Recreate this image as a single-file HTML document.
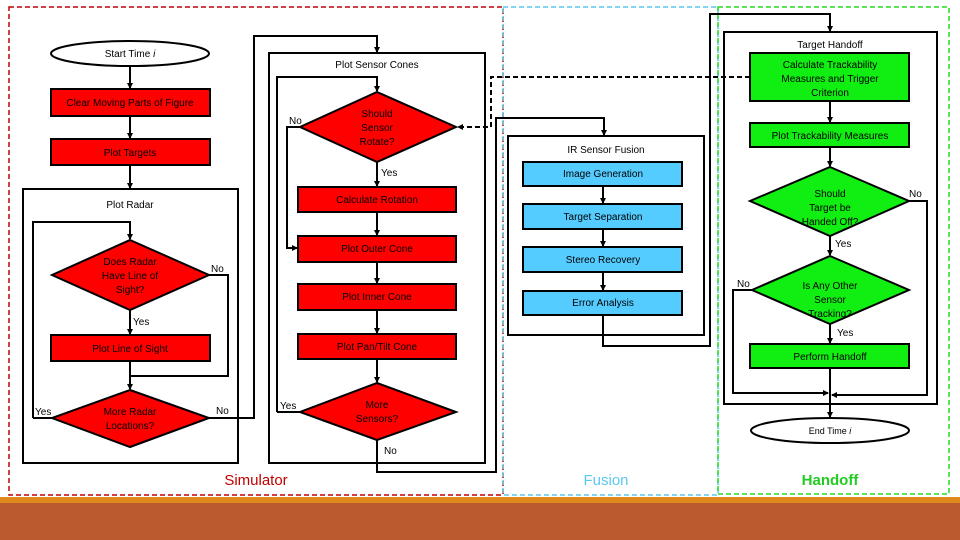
<!DOCTYPE html>
<html><head><meta charset="utf-8"><style>
html,body{margin:0;padding:0;background:#fff;}
svg{display:block;}
text{font-family:"Liberation Sans",sans-serif;font-size:10px;fill:#000;}
</style></head><body>
<svg width="960" height="540" viewBox="0 0 960 540" xmlns="http://www.w3.org/2000/svg">
<defs>
<marker id="a" markerWidth="6" markerHeight="6" refX="5" refY="3" orient="auto" markerUnits="userSpaceOnUse"><path d="M0,0 L6,3 L0,6 z" fill="#000"/></marker>
</defs>
<rect x="0" y="497" width="960" height="43" fill="#bb5a2e"/>
<rect x="0" y="497" width="960" height="6" fill="#e08a1e"/>
<rect x="9" y="7" width="494" height="488" fill="none" stroke="#c00000" stroke-width="1.5" stroke-dasharray="5,3"/>
<rect x="503" y="7" width="215" height="488" fill="none" stroke="#5bc8f0" stroke-width="1.5" stroke-dasharray="5,3"/>
<rect x="718" y="7" width="231" height="487" fill="none" stroke="#22dd22" stroke-width="1.5" stroke-dasharray="5,3"/>
<text x="256" y="485" text-anchor="middle" style="font-size:15px;fill:#c00000">Simulator</text>
<text x="606" y="485" text-anchor="middle" style="font-size:15px;fill:#5bc8f0">Fusion</text>
<text x="830" y="485" text-anchor="middle" style="font-size:15px;fill:#22cc22;font-weight:bold">Handoff</text>
<g stroke="#000" stroke-width="2" fill="none">
<rect x="23" y="189" width="215" height="274"/>
<rect x="269" y="53" width="216" height="410"/>
<rect x="508" y="136" width="196" height="199"/>
<rect x="724" y="32" width="213" height="372"/>
<line x1="130" y1="66" x2="130" y2="88" marker-end="url(#a)"/>
<line x1="130" y1="116" x2="130" y2="138" marker-end="url(#a)"/>
<line x1="130" y1="165" x2="130" y2="188" marker-end="url(#a)"/>
<polyline points="33,418 33,222 130,222 130,239" marker-end="url(#a)"/>
<polyline points="209,275 228,275 228,376 131,376"/>
<line x1="130" y1="310" x2="130" y2="334" marker-end="url(#a)"/>
<line x1="130" y1="361" x2="130" y2="389" marker-end="url(#a)"/>
<line x1="52" y1="418" x2="33" y2="418"/>
<polyline points="209,418 254,418 254,36 377,36 377,52" marker-end="url(#a)"/>
<polyline points="277,412 277,77 377,77 377,91" marker-end="url(#a)"/>
<polyline points="300,127 287,127 287,248 297,248" marker-end="url(#a)"/>
<line x1="377" y1="162" x2="377" y2="186" marker-end="url(#a)"/>
<line x1="377" y1="212" x2="377" y2="235" marker-end="url(#a)"/>
<line x1="377" y1="262" x2="377" y2="283" marker-end="url(#a)"/>
<line x1="377" y1="310" x2="377" y2="333" marker-end="url(#a)"/>
<line x1="377" y1="359" x2="377" y2="382" marker-end="url(#a)"/>
<line x1="300" y1="412" x2="277" y2="412"/>
<polyline points="377,440 377,472 496,472 496,118 604,118 604,135" marker-end="url(#a)"/>
<polyline points="750,77 491,77 491,127 458,127" stroke-dasharray="5,3" marker-end="url(#a)"/>
<line x1="603" y1="186" x2="603" y2="203" marker-end="url(#a)"/>
<line x1="603" y1="229" x2="603" y2="246" marker-end="url(#a)"/>
<line x1="603" y1="272" x2="603" y2="290" marker-end="url(#a)"/>
<polyline points="603,315 603,346 710,346 710,14 830,14 830,31" marker-end="url(#a)"/>
<line x1="830" y1="101" x2="830" y2="122" marker-end="url(#a)"/>
<line x1="830" y1="147" x2="830" y2="166" marker-end="url(#a)"/>
<line x1="830" y1="236" x2="830" y2="255" marker-end="url(#a)"/>
<line x1="830" y1="324" x2="830" y2="343" marker-end="url(#a)"/>
<polyline points="909,201 927,201 927,395 832,395" marker-end="url(#a)"/>
<polyline points="752,290 733,290 733,393 828,393" marker-end="url(#a)"/>
<line x1="830" y1="368" x2="830" y2="417" marker-end="url(#a)"/>
</g>
<g stroke="#000" stroke-width="2">
<ellipse cx="130" cy="53.5" rx="79" ry="12.5" fill="#fff"/>
<rect x="51" y="89" width="159" height="27" fill="#ff0000"/>
<rect x="51" y="139" width="159" height="26" fill="#ff0000"/>
<polygon points="130,240 209,275 130,310 52,275" fill="#ff0000"/>
<rect x="51" y="335" width="159" height="26" fill="#ff0000"/>
<polygon points="130,390 209,418 130,447 52,418" fill="#ff0000"/>
<polygon points="377,92 456,127 377,162 300,127" fill="#ff0000"/>
<rect x="298" y="187" width="158" height="25" fill="#ff0000"/>
<rect x="298" y="236" width="158" height="26" fill="#ff0000"/>
<rect x="298" y="284" width="158" height="26" fill="#ff0000"/>
<rect x="298" y="334" width="158" height="25" fill="#ff0000"/>
<polygon points="377,383 456,412 377,440 300,412" fill="#ff0000"/>
<rect x="523" y="162" width="159" height="24" fill="#55ccff"/>
<rect x="523" y="204" width="159" height="25" fill="#55ccff"/>
<rect x="523" y="247" width="159" height="25" fill="#55ccff"/>
<rect x="523" y="291" width="159" height="24" fill="#55ccff"/>
<rect x="750" y="53" width="159" height="48" fill="#11ee11"/>
<rect x="750" y="123" width="159" height="24" fill="#11ee11"/>
<polygon points="830,167 909,201 830,236 750,201" fill="#11ee11"/>
<polygon points="830,256 909,290 830,324 752,290" fill="#11ee11"/>
<rect x="750" y="344" width="159" height="24" fill="#11ee11"/>
<ellipse cx="830" cy="430.5" rx="79" ry="12.5" fill="#fff"/>
</g>
<g text-anchor="middle">
<text x="130" y="57">Start Time <tspan font-style="italic">i</tspan></text>
<text x="130" y="106">Clear Moving Parts of Figure</text>
<text x="130" y="156">Plot Targets</text>
<text x="130" y="208">Plot Radar</text>
<text x="130" y="265">Does Radar</text>
<text x="130" y="279">Have Line of</text>
<text x="130" y="293">Sight?</text>
<text x="130" y="352">Plot Line of Sight</text>
<text x="130" y="415">More Radar</text>
<text x="130" y="429">Locations?</text>
<text x="377" y="68">Plot Sensor Cones</text>
<text x="377" y="117">Should</text>
<text x="377" y="131">Sensor</text>
<text x="377" y="145">Rotate?</text>
<text x="377" y="203">Calculate Rotation</text>
<text x="377" y="252">Plot Outer Cone</text>
<text x="377" y="300">Plot Inner Cone</text>
<text x="377" y="350">Plot Pan/Tilt Cone</text>
<text x="377" y="408">More</text>
<text x="377" y="422">Sensors?</text>
<text x="606" y="153">IR Sensor Fusion</text>
<text x="603" y="177">Image Generation</text>
<text x="603" y="220">Target Separation</text>
<text x="603" y="263">Stereo Recovery</text>
<text x="603" y="306">Error Analysis</text>
<text x="830" y="48">Target Handoff</text>
<text x="830" y="68">Calculate Trackability</text>
<text x="830" y="82">Measures and Trigger</text>
<text x="830" y="96">Criterion</text>
<text x="830" y="139">Plot Trackability Measures</text>
<text x="830" y="197">Should</text>
<text x="830" y="211">Target be</text>
<text x="830" y="225">Handed Off?</text>
<text x="830" y="289">Is Any Other</text>
<text x="830" y="303">Sensor</text>
<text x="830" y="317">Tracking?</text>
<text x="830" y="360">Perform Handoff</text>
<text x="830" y="434" style="font-size:9px">End Time <tspan font-style="italic">i</tspan></text>
</g>
<text x="211" y="272">No</text>
<text x="133" y="325">Yes</text>
<text x="35" y="415">Yes</text>
<text x="216" y="414">No</text>
<text x="289" y="124">No</text>
<text x="381" y="176">Yes</text>
<text x="280" y="409">Yes</text>
<text x="384" y="454">No</text>
<text x="909" y="197">No</text>
<text x="835" y="247">Yes</text>
<text x="737" y="287">No</text>
<text x="837" y="336">Yes</text>
</svg>
</body></html>
